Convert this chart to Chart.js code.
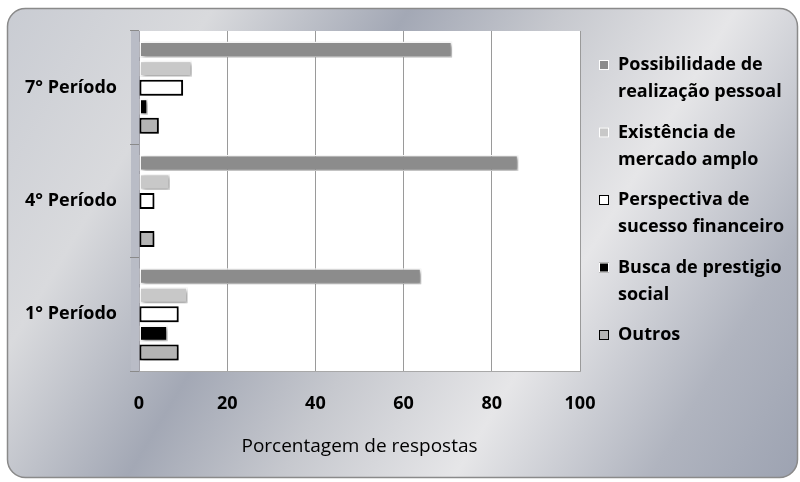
<!DOCTYPE html>
<html>
<head>
<meta charset="utf-8">
<script src="https://cdn.jsdelivr.net/npm/chart.js@4.4.1/dist/chart.umd.min.js"></script>
<style>
  html, body { margin: 0; padding: 0; background: #fff; }
  #wrap { width: 800px; height: 482px; }
</style>
</head>
<body>
<div id="wrap"><canvas id="chart" width="800" height="482"></canvas></div>
<script>
// data
const periods = ['7° Período', '4° Período', '1° Período'];
const seriesNames = [
    ['Possibilidade de', 'realização pessoal'],
    ['Existência de', 'mercado amplo'],
    ['Perspectiva de', 'sucesso financeiro'],
    ['Busca de prestigio', 'social'],
    ['Outros']
];
const possibilidade = [71, 86, 64];
const existencia = [12, 7, 11];
const perspectiva = [10, 3.5, 9];
const busca = [2, 0, 6.5];
const outros = [4.5, 3.5, 9];
const xTicks = [0, 20, 40, 60, 80, 100];

const FONT = '"Open Sans", Lato, sans-serif';

const seriesValues = [possibilidade, existencia, perspectiva, busca, outros];
const fills = ['#8c8c8c', '#c8c8c8', '#ffffff', '#000000', '#b4b4b4'];
const borders = ['#ffffff', '#ffffff', '#000000', '#ffffff', '#000000'];
const borderWidths = [1.5, 1.5, 2, 1.5, 2];

// background frame + white plot area
const backgroundPlugin = {
    id: 'backgroundPlugin',
    beforeDraw(chart) {
        const ctx = chart.ctx;
        const { left, right, top, bottom } = chart.chartArea;
        ctx.save();
        const g = ctx.createLinearGradient(0, 0, 800, 482);
        g.addColorStop(0, '#c8cbd2');
        g.addColorStop(0.2, '#d9dadd');
        g.addColorStop(0.38, '#a3a8b5');
        g.addColorStop(0.52, '#c6c8ce');
        g.addColorStop(0.68, '#e6e6e8');
        g.addColorStop(0.86, '#b0b4bf');
        g.addColorStop(1, '#9ca2b1');
        ctx.beginPath();
        ctx.roundRect(7.5, 8.5, 790, 469, 18);
        ctx.fillStyle = g;
        ctx.fill();
        ctx.lineWidth = 1.5;
        ctx.strokeStyle = '#8a8a8a';
        ctx.stroke();
        ctx.fillStyle = '#ffffff';
        ctx.fillRect(left, top, right - left, bottom - top);
        // side wall of the category axis
        ctx.fillStyle = '#b9bcc6';
        ctx.fillRect(left - 8, top, 8, bottom - top);
        ctx.restore();
    }
};

// soft drop shadow under the bars
const shadowPlugin = {
    id: 'shadowPlugin',
    beforeDatasetsDraw(chart) {
        const ctx = chart.ctx;
        ctx.save();
        ctx.shadowColor = 'rgba(0,0,0,0.4)';
        ctx.shadowBlur = 4;
        ctx.shadowOffsetX = 2;
        ctx.shadowOffsetY = 2;
    },
    afterDatasetsDraw(chart) {
        chart.ctx.restore();
    }
};

// legend with wrapped labels on the right
const wrapLegend = {
    id: 'wrapLegend',
    afterDraw(chart) {
        const ctx = chart.ctx;
        ctx.save();
        ctx.font = 'bold 18px ' + FONT;
        ctx.textBaseline = 'middle';
        let y = 65;
        chart.data.datasets.forEach((ds, i) => {
            ctx.fillStyle = ds.backgroundColor;
            ctx.fillRect(599, y - 5, 10, 10);
            ctx.lineWidth = 1;
            ctx.strokeStyle = i === 2 || i === 4 ? '#000' : '#ffffff';
            ctx.strokeRect(599.5, y - 4.5, 9, 9);
            ctx.fillStyle = '#000';
            seriesNames[i].forEach((line, j) => {
                ctx.fillText(line, 618, y + j * 27);
            });
            y += 67.5;
        });
        ctx.restore();
    }
};

const ctx = document.getElementById('chart').getContext('2d');
new Chart(ctx, {
    type: 'bar',
    data: {
        labels: periods,
        datasets: seriesValues.map((vals, i) => ({
            label: seriesNames[i].join(' '),
            data: vals,
            backgroundColor: fills[i],
            borderColor: borders[i],
            borderWidth: borderWidths[i],
            borderSkipped: false,
            categoryPercentage: 0.84,
            barPercentage: 0.84
        }))
    },
    options: {
        indexAxis: 'y',
        responsive: false,
        animation: false,
        layout: { padding: { top: 31, right: 220, left: 0, bottom: 0 } },
        plugins: {
            legend: { display: false },
            tooltip: { enabled: false }
        },
        scales: {
            x: {
                min: 0,
                max: 100,
                afterBuildTicks(scale) {
                    scale.ticks = xTicks.map(v => ({ value: v }));
                },
                afterFit(scale) { scale.height = 111; },
                grid: { color: '#9a9a9a', drawTicks: false },
                border: { color: '#a8a8a8' },
                ticks: {
                    padding: 22,
                    color: '#000',
                    font: { family: FONT, size: 18, weight: 'bold' }
                },
                title: {
                    display: true,
                    text: 'Porcentagem de respostas',
                    color: '#000',
                    padding: { top: 0, bottom: 24 },
                    font: { family: FONT, size: 19 }
                }
            },
            y: {
                afterFit(scale) { scale.width = 139; },
                grid: {
                    offset: true,
                    drawOnChartArea: false,
                    tickLength: 9,
                    color: '#8a8a8a'
                },
                border: { color: '#a0a0a8', width: 1 },
                ticks: {
                    padding: 13,
                    color: '#000',
                    font: { family: FONT, size: 18, weight: 'bold' }
                }
            }
        }
    },
    plugins: [backgroundPlugin, shadowPlugin, wrapLegend]
});
</script>
</body>
</html>
